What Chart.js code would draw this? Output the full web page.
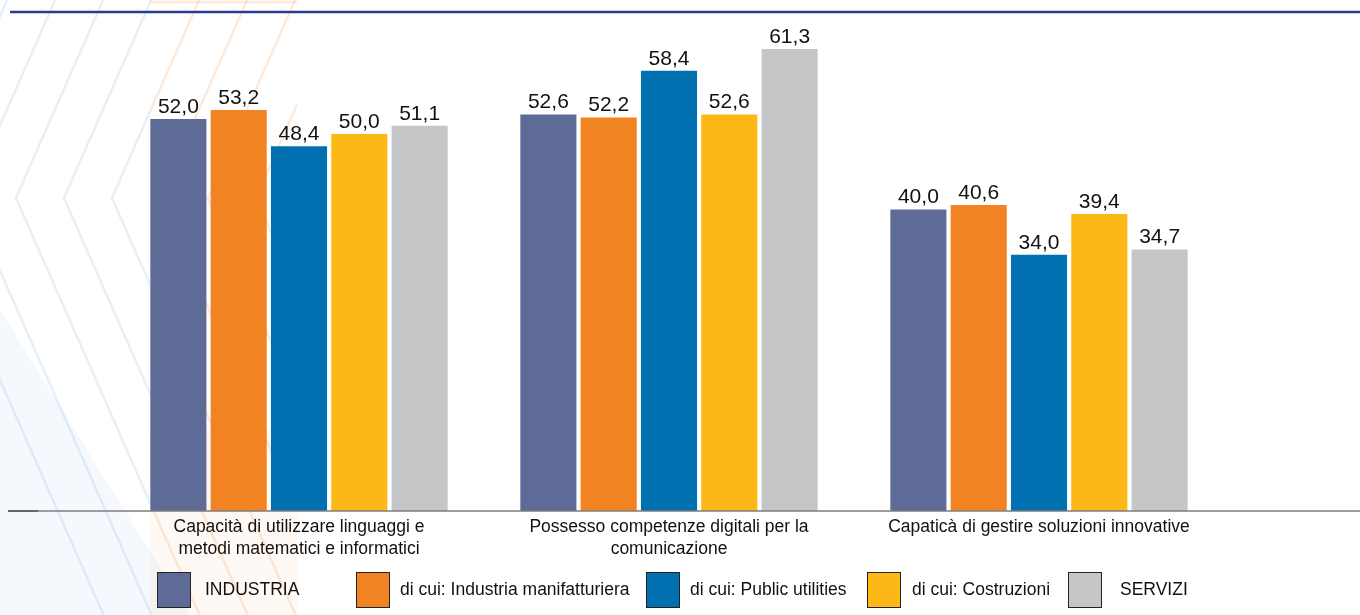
<!DOCTYPE html>
<html>
<head>
<meta charset="utf-8">
<script src="https://cdn.jsdelivr.net/npm/chart.js@4.4.1/dist/chart.umd.min.js"></script>
<style>
  body { margin: 0; background: #fff; font-family: "Liberation Sans", Arial, sans-serif; }
  #wrap { position: relative; width: 1360px; height: 615px; }
  #legend { position: absolute; left: 0; top: 0; width: 1360px; height: 615px; pointer-events: none; }
  .lg-box { position: absolute; top: 572px; width: 32px; height: 34px; border: 1.5px solid #222; }
  .lg-txt { position: absolute; top: 579px; font-size: 17.5px; color: #111; white-space: nowrap; }
</style>
</head>
<body>
<div id="wrap">
  <canvas id="myChart" width="1360" height="615"></canvas>
  <div id="legend"></div>
</div>
<script>
'use strict';

let categories = [
  ['Capacità di utilizzare linguaggi e', 'metodi matematici e informatici'],
  ['Possesso competenze digitali per la', 'comunicazione'],
  'Capaticà di gestire soluzioni innovative'
];
let seriesNames = ['INDUSTRIA', 'di cui: Industria manifatturiera', 'di cui: Public utilities', 'di cui: Costruzioni', 'SERVIZI'];
let industria = [52.0, 52.6, 40.0];
let manifatturiera = [53.2, 52.2, 40.6];
let publicUtilities = [48.4, 58.4, 34.0];
let costruzioni = [50.0, 52.6, 39.4];
let servizi = [51.1, 61.3, 34.7];
let seriesColors = ['#5e6b97', '#f28322', '#0070b0', '#fcb817', '#c5c6c8'];

let allValues = [industria, manifatturiera, publicUtilities, costruzioni, servizi];

// legend positions (box left, text left)
let legendBoxX = [157, 356, 646, 867, 1068];
let legendTextX = [205, 400, 690, 912, 1120];

let legendEl = document.getElementById('legend');
for (let i = 0; i < seriesNames.length; i++) {
  let box = document.createElement('div');
  box.className = 'lg-box';
  box.style.left = legendBoxX[i] + 'px';
  box.style.background = seriesColors[i];
  legendEl.appendChild(box);
  let txt = document.createElement('div');
  txt.className = 'lg-txt';
  txt.style.left = legendTextX[i] + 'px';
  txt.textContent = seriesNames[i];
  legendEl.appendChild(txt);
}

// faint chevrons in the background + the two horizontal rules
let decoPlugin = {
  id: 'deco',
  beforeDraw(chart) {
    let ctx = chart.ctx;
    let tips = [-80, -32, 16, 64, 112, 160, 208, 256];
    let drawChevrons = function (color) {
      ctx.strokeStyle = color;
      ctx.lineWidth = 2.5;
      for (let t of tips) {
        ctx.beginPath();
        ctx.moveTo(t + 0.44 * 198, 0);
        ctx.lineTo(t, 198);
        ctx.lineTo(t + 0.44 * 417, 615);
        ctx.stroke();
      }
    };
    ctx.save();
    ctx.fillStyle = 'rgba(0, 112, 192, 0.04)';
    ctx.beginPath();
    ctx.moveTo(0, 310);
    ctx.lineTo(190, 615);
    ctx.lineTo(0, 615);
    ctx.closePath();
    ctx.fill();
    ctx.beginPath();
    ctx.rect(0, 0, 150, 615);
    ctx.clip();
    drawChevrons('rgba(0, 112, 192, 0.1)');
    ctx.restore();

    ctx.save();
    ctx.beginPath();
    ctx.rect(150, 0, 147, 615);
    ctx.clip();
    ctx.fillStyle = 'rgba(242, 131, 34, 0.05)';
    ctx.beginPath();
    ctx.moveTo(150, 430);
    ctx.lineTo(297, 430);
    ctx.lineTo(297, 615);
    ctx.lineTo(150, 615);
    ctx.fill();
    drawChevrons('rgba(242, 131, 34, 0.17)');
    ctx.strokeStyle = 'rgba(242, 131, 34, 0.17)';
    ctx.beginPath();
    ctx.moveTo(150, 2);
    ctx.lineTo(297, 2);
    ctx.stroke();
    ctx.restore();

    ctx.save();
    ctx.strokeStyle = '#2b3c8c';
    ctx.lineWidth = 2.5;
    ctx.beginPath();
    ctx.moveTo(10, 12);
    ctx.lineTo(1360, 12);
    ctx.stroke();
    ctx.restore();
  },
  afterDatasetsDraw(chart) {
    let ctx = chart.ctx;
    let y = chart.chartArea.bottom;
    ctx.save();
    ctx.strokeStyle = '#7d7d7d';
    ctx.lineWidth = 1.5;
    ctx.beginPath();
    ctx.moveTo(38, y);
    ctx.lineTo(1360, y);
    ctx.stroke();
    ctx.strokeStyle = '#333';
    ctx.beginPath();
    ctx.moveTo(8, y);
    ctx.lineTo(38, y);
    ctx.stroke();

    // value labels
    ctx.fillStyle = '#111';
    ctx.font = '21px "Liberation Sans", Arial, sans-serif';
    ctx.textAlign = 'center';
    ctx.textBaseline = 'alphabetic';
    chart.data.datasets.forEach(function (ds, i) {
      let meta = chart.getDatasetMeta(i);
      meta.data.forEach(function (bar, j) {
        ctx.fillText(ds.data[j].toFixed(1).replace('.', ','), bar.x, bar.y - 6);
      });
    });
    ctx.restore();
  }
};

let datasets = [];
for (let i = 0; i < seriesNames.length; i++) {
  datasets.push({
    label: seriesNames[i],
    data: allValues[i],
    backgroundColor: seriesColors[i],
    borderWidth: 0,
    categoryPercentage: 0.815,
    barPercentage: 0.93
  });
}

let ctx = document.getElementById('myChart').getContext('2d');
let myChart = new Chart(ctx, {
  type: 'bar',
  data: {
    labels: categories,
    datasets: datasets
  },
  options: {
    responsive: false,
    animation: false,
    layout: { padding: { top: 21, left: 114, right: 136, bottom: 0 } },
    plugins: {
      legend: { display: false },
      tooltip: { enabled: false }
    },
    scales: {
      x: {
        grid: { display: false, drawTicks: false },
        border: { display: false },
        ticks: {
          color: '#111',
          padding: 5,
          maxRotation: 0,
          font: { family: '"Liberation Sans", Arial, sans-serif', size: 17.5, lineHeight: 1.25 }
        },
        afterFit(scale) { scale.height = 104; }
      },
      y: {
        display: false,
        min: 0,
        max: 65
      }
    }
  },
  plugins: [decoPlugin]
});
</script>
</body>
</html>
